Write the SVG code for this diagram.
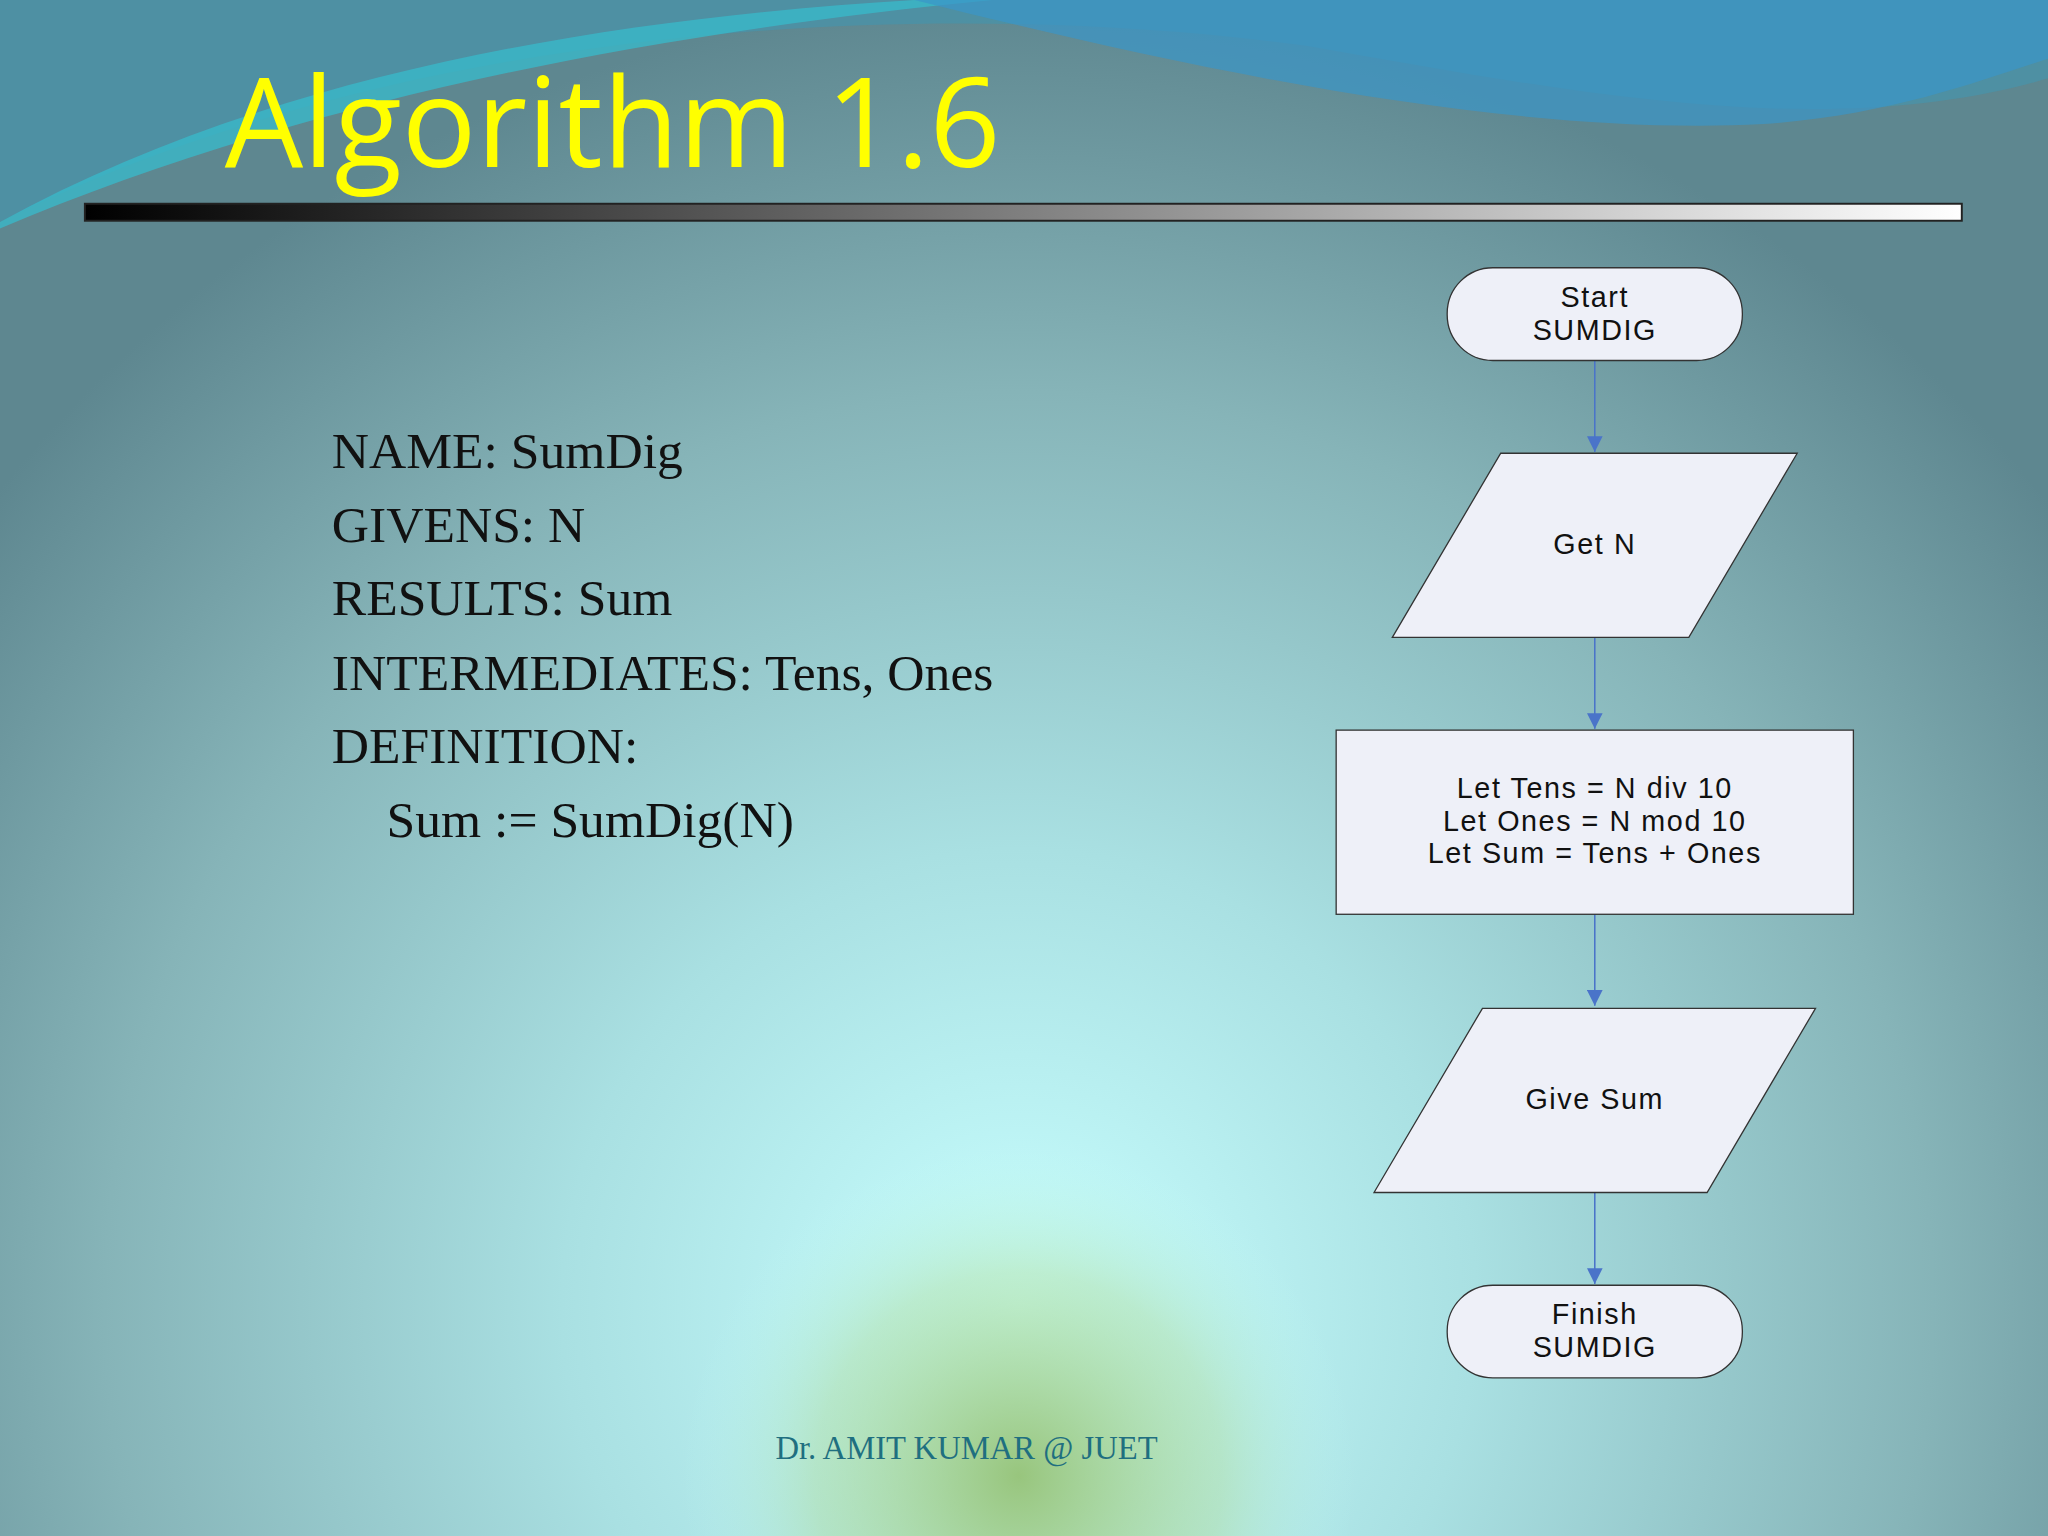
<svg xmlns="http://www.w3.org/2000/svg" width="2048" height="1536" viewBox="0 0 2048 1536">
<defs>
<radialGradient id="bg" cx="780" cy="1000" r="1000" gradientUnits="userSpaceOnUse">
<stop offset="0" stop-color="#c8ffff"/><stop offset="0.35" stop-color="#a9e0e2"/><stop offset="0.7" stop-color="#86b4b8"/><stop offset="1" stop-color="#5e8790"/>
</radialGradient>
<radialGradient id="glow" cx="780" cy="1130" r="260" gradientUnits="userSpaceOnUse">
<stop offset="0" stop-color="#94c070" stop-opacity="0.9"/><stop offset="0.6" stop-color="#b0d890" stop-opacity="0.4"/><stop offset="1" stop-color="#c8ffff" stop-opacity="0"/>
</radialGradient>
<linearGradient id="bar" x1="0" x2="1"><stop offset="0" stop-color="#000"/><stop offset="1" stop-color="#fff"/></linearGradient>
<marker id="ah" viewBox="0 0 10 10" refX="10" refY="5" markerWidth="12" markerHeight="12" markerUnits="userSpaceOnUse" orient="auto"><path d="M0,0 L10,5 L0,10 z" fill="#4a74c9"/></marker>
<style>
.n{fill:#eef0f8;stroke:#333;stroke-width:1}
.t{font-family:"Liberation Sans",Arial,sans-serif;font-size:22px;letter-spacing:1.2px;fill:#111;text-anchor:middle}
.c{stroke:#4a74c9;stroke-width:1.2;fill:none;marker-end:url(#ah)}
.s{font-family:"Liberation Serif","Times New Roman",serif;font-size:39.5px;fill:#111}
</style>
</defs>
<g transform="scale(1.306122)">
<rect width="1568" height="1176" fill="url(#bg)"/>
<rect width="1568" height="1176" fill="url(#glow)"/>
<path d="M0,0 H1568 V60 C1400,110 1200,70 1000,35 C700,-5 300,20 0,170 Z" fill="#4a92a8" opacity="0.8"/>
<path d="M0,170 C200,60 450,15 700,0 L760,0 C450,30 200,90 0,175 Z" fill="#3ab8c8" opacity="0.8"/>
<path d="M700,0 C900,50 1150,105 1350,95 C1450,88 1520,60 1568,45 V0 Z" fill="#3a96c8" opacity="0.7"/>
<text x="172" y="128" font-family="'Open Sans','Liberation Sans',sans-serif" font-size="95" fill="#ffff00">Algorithm 1.6</text>
<rect x="65" y="156" width="1437" height="13" fill="url(#bar)" stroke="#222" stroke-width="1.5"/>
<text class="s" x="254" y="358">NAME: SumDig</text>
<text class="s" x="254" y="415">GIVENS: N</text>
<text class="s" x="254" y="471">RESULTS: Sum</text>
<text class="s" x="254" y="528">INTERMEDIATES: Tens, Ones</text>
<text class="s" x="254" y="584">DEFINITION:</text>
<text class="s" x="296" y="641">Sum := SumDig(N)</text>
<g id="connectors">
<line class="c" x1="1221" y1="276" x2="1221" y2="346"/>
<line class="c" x1="1221" y1="488" x2="1221" y2="558"/>
<line class="c" x1="1221" y1="700" x2="1221" y2="770"/>
<line class="c" x1="1221" y1="913" x2="1221" y2="983"/>
</g>
<g id="start"><rect class="n" x="1108" y="205" width="226" height="71" rx="35"/><text class="t" x="1221" y="235">Start</text><text class="t" x="1221" y="260">SUMDIG</text></g>
<g id="getn"><polygon class="n" points="1149,347 1376,347 1293,488 1066,488"/><text class="t" x="1221" y="424">Get N</text></g>
<g id="calc"><rect class="n" x="1023" y="559" width="396" height="141"/><text class="t" x="1221" y="611">Let Tens = N div 10</text><text class="t" x="1221" y="636">Let Ones = N mod 10</text><text class="t" x="1221" y="661">Let Sum = Tens + Ones</text></g>
<g id="give"><polygon class="n" points="1135,772 1390,772 1307,913 1052,913"/><text class="t" x="1221" y="849">Give Sum</text></g>
<g id="finish"><rect class="n" x="1108" y="984" width="226" height="71" rx="35"/><text class="t" x="1221" y="1014">Finish</text><text class="t" x="1221" y="1039">SUMDIG</text></g>
<text x="740" y="1117" font-family="'Liberation Serif',serif" font-size="25" fill="#1f6f80" text-anchor="middle">Dr. AMIT KUMAR @ JUET</text>
</g>
</svg>
